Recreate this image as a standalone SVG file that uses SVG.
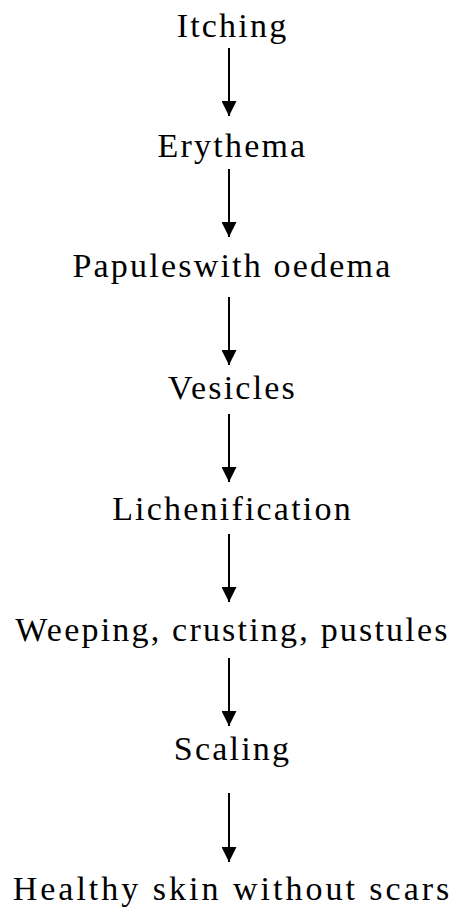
<svg xmlns="http://www.w3.org/2000/svg" width="457" height="916" viewBox="0 0 457 916">
<style>
text{font-family:"Liberation Serif","Times New Roman",serif;font-size:34px;fill:#000;text-anchor:middle;letter-spacing:2.2px}
text.wide{letter-spacing:3px}
.c line{stroke:#000;stroke-width:2}
</style>
<defs>
<marker id="ah" viewBox="0 0 15 15" refX="15" refY="7.5" markerWidth="15" markerHeight="15" markerUnits="userSpaceOnUse" orient="auto">
<path d="M0,0 L15,7.5 L0,15 z" fill="#000"/>
</marker>
</defs>
<rect width="457" height="916" fill="#fff"/>
<g id="n1"><text x="232.5" y="37">Itching</text></g>
<g id="n2"><text x="232.5" y="157">Erythema</text></g>
<g id="n3"><text x="232.5" y="277">Papuleswith oedema</text></g>
<g id="n4"><text x="232.5" y="399">Vesicles</text></g>
<g id="n5"><text x="232.5" y="520">Lichenification</text></g>
<g id="n6"><text x="232.5" y="641">Weeping, crusting, pustules</text></g>
<g id="n7"><text x="232.5" y="760">Scaling</text></g>
<g id="n8"><text class="wide" x="232.5" y="900">Healthy skin without scars</text></g>
<g class="c" id="connectors">
<line x1="229" y1="48" x2="229" y2="116" marker-end="url(#ah)"/>
<line x1="229" y1="169" x2="229" y2="237" marker-end="url(#ah)"/>
<line x1="229" y1="297" x2="229" y2="365" marker-end="url(#ah)"/>
<line x1="229" y1="414" x2="229" y2="482" marker-end="url(#ah)"/>
<line x1="229" y1="534" x2="229" y2="602" marker-end="url(#ah)"/>
<line x1="229" y1="658" x2="229" y2="726" marker-end="url(#ah)"/>
<line x1="229" y1="793" x2="229" y2="862" marker-end="url(#ah)"/>
</g>
</svg>
